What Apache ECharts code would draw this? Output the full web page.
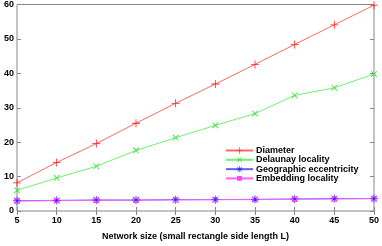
<!DOCTYPE html>
<html><head><meta charset="utf-8">
<script src="https://cdn.jsdelivr.net/npm/echarts@6/dist/echarts.min.js"></script>
<style>html,body{margin:0;padding:0;background:#fff}#c{width:382px;height:246px}</style>
</head><body><div id="c"></div>
<script>
var sizes = [5, 10, 15, 20, 25, 30, 35, 40, 45, 50];
var diameter = [8.2, 14.1, 19.6, 25.5, 31.3, 36.9, 42.6, 48.4, 54.1, 59.8];
var delaunay = [6.0, 9.6, 13.0, 17.6, 21.3, 24.9, 28.3, 33.6, 35.8, 39.8];
var geoEcc = [3.0, 3.1, 3.2, 3.2, 3.3, 3.3, 3.4, 3.5, 3.6, 3.6];
var embedLoc = [2.9, 3.0, 3.1, 3.1, 3.2, 3.3, 3.3, 3.4, 3.5, 3.6];
var names = ['Diameter', 'Delaunay locality', 'Geographic eccentricity', 'Embedding locality'];
var xTicks = {min: 5, max: 50, interval: 5};
var yTicks = {min: 0, max: 60, interval: 10};

function pairs(v) { return sizes.map(function (s, i) { return [s, v[i]]; }); }
var plus = 'path://M4.5,0h1v4.5h4.5v1h-4.5v4.5h-1v-4.5h-4.5v-1h4.5z';
var star = 'path://M4.5,0h1v4.5h4.5v1h-4.5v4.5h-1v-4.5h-4.5v-1h4.5z M1.1,1.8l0.7,-0.7l3.2,3.2l3.2,-3.2l0.7,0.7l-3.2,3.2l3.2,3.2l-0.7,0.7l-3.2,-3.2l-3.2,3.2l-0.7,-0.7l3.2,-3.2z';
var smallSquare = 'path://M0,0M10,10M2.8,2.8h4.4v4.4h-4.4z';
var font = 'Liberation Sans';
var tickGray = '#888';

function mk(name, data, lineColor, markColor, symbol, size, rot, empty) {
  return {
    name: name, type: 'line', data: pairs(data), symbol: symbol, symbolSize: size,
    symbolRotate: rot || 0, showAllSymbol: true,
    lineStyle: {color: lineColor, width: 1},
    itemStyle: empty ? {color: 'rgba(255,255,255,0)', borderColor: markColor, borderWidth: 1} : {color: markColor, borderWidth: 0},
    emphasis: {disabled: true}, animation: false
  };
}

var chart = echarts.init(document.getElementById('c'), null, {renderer: 'canvas'});
chart.setOption({
  animation: false,
  grid: {left: 17, right: 6, top: 4, bottom: 29, show: true, borderColor: tickGray, borderWidth: 1, backgroundColor: 'transparent'},
  legend: {
    data: names, orient: 'vertical', left: 225, top: 146, itemWidth: 27, itemHeight: 8, itemGap: 0.3,
    textStyle: {fontFamily: font, fontSize: 9, fontWeight: 'bold', color: '#000', padding: [0, 0, 0, -2]},
    padding: 0
  },
  xAxis: [{
    type: 'value', min: xTicks.min, max: xTicks.max, interval: xTicks.interval,
    name: 'Network size (small rectangle side length L)', nameLocation: 'middle', nameGap: 21,
    nameTextStyle: {fontFamily: font, fontSize: 9, fontWeight: 'bold', color: '#000'},
    axisLine: {show: false}, splitLine: {show: false},
    axisTick: {inside: true, length: 4, lineStyle: {color: tickGray}},
    axisLabel: {fontFamily: font, fontSize: 9, fontWeight: 'bold', color: '#000', margin: 5}
  }, {
    type: 'value', position: 'top', min: xTicks.min, max: xTicks.max, interval: xTicks.interval,
    axisLine: {show: false}, splitLine: {show: false}, axisLabel: {show: false},
    axisTick: {inside: true, length: 4, lineStyle: {color: tickGray}}
  }],
  yAxis: [{
    type: 'value', min: yTicks.min, max: yTicks.max, interval: yTicks.interval,
    axisLine: {show: false}, splitLine: {show: false},
    axisTick: {inside: true, length: 4, lineStyle: {color: tickGray}},
    axisLabel: {fontFamily: font, fontSize: 9, fontWeight: 'bold', color: '#000', margin: 3}
  }, {
    type: 'value', position: 'right', min: yTicks.min, max: yTicks.max, interval: yTicks.interval,
    axisLine: {show: false}, splitLine: {show: false}, axisLabel: {show: false},
    axisTick: {inside: true, length: 4, lineStyle: {color: tickGray}}
  }],
  series: [
    mk(names[0], diameter, '#ff6a6a', '#ff2020', plus, 8),
    mk(names[1], delaunay, '#70f070', '#30e030', plus, 8, 45),
    mk(names[2], geoEcc, '#6060ff', '#3030ff', star, 8),
    mk(names[3], embedLoc, '#ff60ff', '#ff40ff', smallSquare, 10, 0, true)
  ]
});
</script></body></html>
